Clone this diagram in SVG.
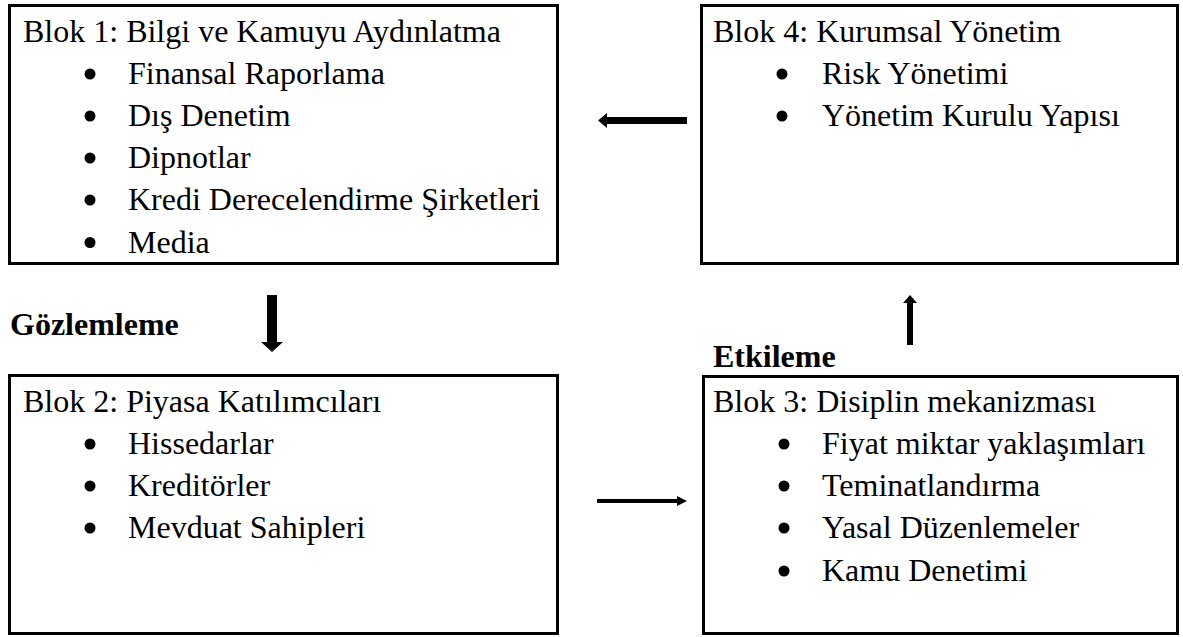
<svg xmlns="http://www.w3.org/2000/svg" width="1183" height="637" viewBox="0 0 1183 637" font-family="'Liberation Serif', 'Times New Roman', serif">
<style>
.box{fill:#fff;stroke:#000;stroke-width:3}
.t{font-family:"Liberation Serif","Times New Roman",serif;font-size:32px;fill:#000}
.b{font-family:"Liberation Serif","Times New Roman",serif;font-size:32px;font-weight:bold;fill:#000}
.arr{fill:#000}
</style>
<rect width="1183" height="637" fill="#fff"/>
<g id="block1">
<rect class="box" x="9.5" y="5.5" width="548" height="258"/>
<text class="t" x="23" y="42">Blok 1: Bilgi ve Kamuyu Aydınlatma</text>
<circle cx="90" cy="74" r="5.5"/><text class="t" x="128" y="84">Finansal Raporlama</text>
<circle cx="90" cy="116" r="5.5"/><text class="t" x="128" y="126">Dış Denetim</text>
<circle cx="90" cy="158" r="5.5"/><text class="t" x="128" y="168">Dipnotlar</text>
<circle cx="90" cy="200" r="5.5"/><text class="t" x="128" y="210">Kredi Derecelendirme Şirketleri</text>
<circle cx="90" cy="242.5" r="5.5"/><text class="t" x="128" y="253">Media</text>
</g>
<g id="block4">
<rect class="box" x="701.5" y="5.5" width="476" height="258"/>
<text class="t" x="713" y="42">Blok 4: Kurumsal Yönetim</text>
<circle cx="782" cy="74" r="5.5"/><text class="t" x="822" y="84">Risk Yönetimi</text>
<circle cx="782" cy="116" r="5.5"/><text class="t" x="822" y="126">Yönetim Kurulu Yapısı</text>
</g>
<g id="block2">
<rect class="box" x="9.5" y="375.5" width="548" height="258"/>
<text class="t" x="23" y="412">Blok 2: Piyasa Katılımcıları</text>
<circle cx="90" cy="444" r="5.5"/><text class="t" x="128" y="454">Hissedarlar</text>
<circle cx="90" cy="486" r="5.5"/><text class="t" x="128" y="496">Kreditörler</text>
<circle cx="90" cy="528" r="5.5"/><text class="t" x="128" y="538">Mevduat Sahipleri</text>
</g>
<g id="block3">
<rect class="box" x="703.5" y="376.5" width="474" height="257"/>
<text class="t" x="713" y="412">Blok 3: Disiplin mekanizması</text>
<circle cx="784" cy="444" r="5.5"/><text class="t" x="822" y="454">Fiyat miktar yaklaşımları</text>
<circle cx="784" cy="486" r="5.5"/><text class="t" x="822" y="496">Teminatlandırma</text>
<circle cx="784" cy="528" r="5.5"/><text class="t" x="822" y="538">Yasal Düzenlemeler</text>
<circle cx="784" cy="571" r="5.5"/><text class="t" x="822" y="581">Kamu Denetimi</text>
</g>
<g id="labels">
<text class="b" x="10" y="335">Gözlemleme</text>
<text class="b" x="713" y="367">Etkileme</text>
</g>
<g id="connectors">
<polygon class="arr" points="687,117 607,117 607,113 598,120.5 607,128 607,124 687,124"/>
<polygon class="arr" points="267,295 277,295 277,342 283,342 272,352 261,342 267,342"/>
<polygon class="arr" points="907,345 913,345 913,303 917,303 910,295 903,303 907,303"/>
<polygon class="arr" points="597,499 677,499 677,496 687,501 677,506 677,503 597,503"/>
</g>
</svg>
